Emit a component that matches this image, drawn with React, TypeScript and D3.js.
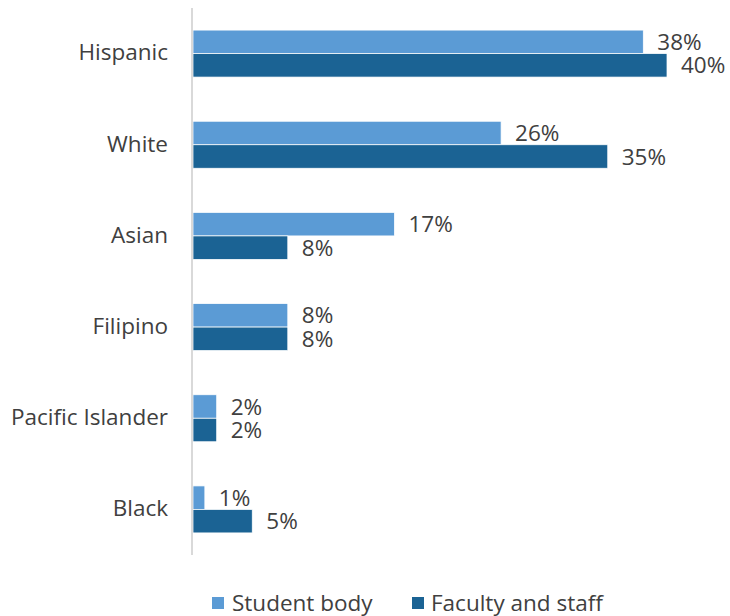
import React from "react";
import * as d3 from "d3";

const categories = ["Hispanic", "White", "Asian", "Filipino", "Pacific Islander", "Black"];
const studentBody = [38, 26, 17, 8, 2, 1];
const facultyStaff = [40, 35, 8, 8, 2, 5];
const seriesNames = ["Student body", "Faculty and staff"];
const seriesColors = ["#5B9BD5", "#1B6394"];

const W = 730;
const H = 616;
const FONT = "'Open Sans', 'Noto Sans', sans-serif";
const TEXT = "#404040";
const FS = 22.5;

export default function App() {
  const y = d3.scaleBand<string>().domain(categories).range([8, 555]).paddingInner(0.4845).paddingOuter(0.4845 / 2);
  const x = d3.scaleLinear().domain([0, 40]).range([193, 667]);
  const bw = y.bandwidth();
  const half = bw / 2;
  const series = [studentBody, facultyStaff];

  return (
    <svg width={W} height={H} style={{ position: "absolute", left: 0, top: 0 }} fontFamily={FONT}>
      <rect width={W} height={H} fill="#fff" />
      {categories.map((c, i) => {
        const y0 = y(c)!;
        return (
          <g key={c}>
            {series.map((s, k) => (
              <g key={k}>
                <rect
                  x={x(0)}
                  y={y0 + k * half}
                  width={x(s[i]) - x(0)}
                  height={half}
                  fill={seriesColors[k]}
                  stroke="#ffffff"
                  strokeWidth={0.75}
                />
                <text
                  x={x(s[i]) + 14}
                  y={y0 + k * half + half / 2}
                  dy="0.36em"
                  fontSize={FS}
                  fill={TEXT}
                >
                  {s[i]}%
                </text>
              </g>
            ))}
            <text x={168} y={y0 + bw / 2} dy="0.3em" textAnchor="end" fontSize={FS} fill={TEXT}>
              {c}
            </text>
          </g>
        );
      })}
      <line x1={192} x2={192} y1={8} y2={555} stroke="#D9D9D9" strokeWidth={2} />
      <g>
        <rect x={212} y={597} width={12} height={12} fill={seriesColors[0]} />
        <text x={232} y={603} dy="0.36em" fontSize={FS} fill={TEXT}>{seriesNames[0]}</text>
        <rect x={412} y={597} width={12} height={12} fill={seriesColors[1]} />
        <text x={431} y={603} dy="0.36em" fontSize={FS} fill={TEXT}>{seriesNames[1]}</text>
      </g>
    </svg>
  );
}
